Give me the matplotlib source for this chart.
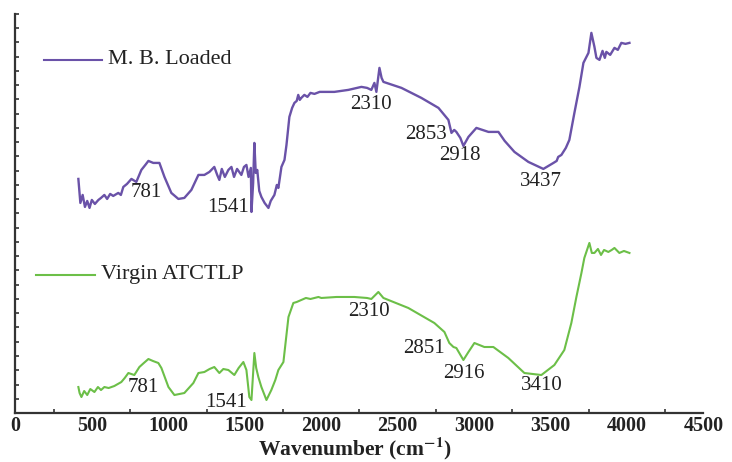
import numpy as np
import matplotlib
matplotlib.use("Agg")
import matplotlib.pyplot as plt
from matplotlib.ticker import MultipleLocator

# FTIR spectra, y in arbitrary units (offset stacked)

mb_wn = [412, 425, 440, 455, 470, 485, 500, 520, 543, 560, 582, 600, 620, 640, 673, 690,
         706, 730, 759, 791, 824, 850, 870, 902, 942, 975, 1020, 1066, 1105, 1151, 1197,
         1236, 1269, 1301, 1320, 1334, 1350, 1370, 1393, 1413, 1430, 1450, 1478, 1495,
         1511, 1525, 1540, 1544, 1555, 1563, 1572, 1582, 1595, 1609, 1630, 1655, 1670,
         1694, 1710, 1720, 1740, 1760, 1773, 1792, 1800, 1810, 1825, 1840, 1850, 1860,
         1870, 1890, 1910, 1930, 1956, 1990, 2086, 2178, 2263, 2300, 2328, 2348, 2361,
         2381, 2395, 2407, 2525, 2655, 2767, 2832, 2852, 2870, 2884, 2910, 2930, 2963,
         3015, 3094, 3159, 3200, 3264, 3355, 3453, 3519, 3540, 3550, 3571, 3600, 3623,
         3656, 3689, 3715, 3748, 3767, 3787, 3800, 3820, 3840, 3855, 3865, 3890, 3918,
         3940, 3963, 3990, 4016]
mb_val = [234, 210, 218, 206, 212, 205, 213, 209, 213, 215, 218, 214, 219, 217, 220, 218,
          226, 229, 234, 231, 243, 248, 252, 250, 250, 236, 220, 214, 215, 223, 238,
          238, 241, 246, 238, 233, 244, 236, 243, 246, 236, 244, 238, 246,
          248, 236, 245, 201, 230, 270, 240, 243, 222, 216, 210, 205, 212,
          218, 228, 225, 246, 253, 268, 296, 300, 305, 310, 312, 318, 313,
          315, 318, 316, 320, 319, 321, 321, 323, 326, 325, 323, 330, 321,
          345, 335, 331, 325, 315, 305, 293, 280, 283, 281, 275, 267, 276,
          285, 281, 281, 272, 261, 251, 244, 250, 252, 256, 258, 265, 273,
          300, 326, 350, 360, 380, 366, 355, 353, 362, 355, 361, 358, 365,
          363, 370, 369, 370]

virgin_wn = [412, 420, 432, 450, 470, 490, 517, 540, 560, 582, 610, 647, 670, 693, 715, 739,
             778, 811, 840, 870, 900, 935, 955, 1001, 1040, 1105, 1164, 1197, 1236, 1270,
             1301, 1334, 1360, 1393, 1432, 1460, 1491, 1511, 1530, 1544, 1563, 1575, 1589,
             1609, 1642, 1674, 1700, 1720, 1753, 1786, 1818, 1840, 1870, 1900, 1930, 1982,
             2001, 2100, 2217, 2300, 2328, 2374, 2407, 2570, 2740, 2806, 2838, 2865, 2884,
             2930, 2963, 3002, 3067, 3126, 3224, 3329, 3440, 3525, 3590, 3636, 3669, 3702,
             3721, 3754, 3770, 3787, 3810, 3830, 3850, 3878, 3900, 3918, 3950, 3980, 4016]
virgin_val = [26, 20, 16, 22, 18, 24, 21, 26, 23, 26, 25, 27, 29, 31, 35, 40,
              38, 46, 50, 54, 52, 50, 45, 26, 18, 20, 30, 40, 41, 44,
              46, 40, 44, 43, 38, 45, 51, 43, 16, 13, 60, 45, 36,
              26, 13, 23, 33, 43, 51, 96, 110, 111, 113, 115, 114, 116,
              115, 116, 116, 115, 114, 121, 115, 105, 90, 81, 70, 66, 65,
              53, 61, 70, 66, 66, 55, 40, 38, 48, 63, 90, 116, 140,
              155, 170, 160, 160, 164, 158, 163, 161, 163, 165, 160, 162, 160]

mb_peaks = ["781", "1541", "2310", "2853", "2918", "3437"]
mb_peak_x = [857, 1393, 2328, 2688, 2904, 3440]
mb_peak_y = [220, 205, 308, 278, 257, 231]

virgin_peaks = ["781", "1541", "2310", "2851", "2916", "3410"]
virgin_peak_x = [837, 1380, 2315, 2675, 2930, 3440]
virgin_peak_y = [26, 11, 101, 65, 40, 28]

purple = "#6a52a8"
green = "#6cbf48"

plt.rcParams['font.family'] = ['Liberation Serif', 'DejaVu Serif']
plt.rcParams['mathtext.fontset'] = 'stix'

fig = plt.figure(figsize=(7.32, 4.62), dpi=100)
ax = fig.add_axes([0.021, 0.106, 0.94, 0.864])

ax.plot(mb_wn, mb_val, color=purple, lw=1.7)
ax.plot(virgin_wn, virgin_val, color=green, lw=1.5)

for t, x, y in zip(mb_peaks, mb_peak_x, mb_peak_y):
    ax.text(x, y, t, ha="center", va="center", fontsize=15, color="#222222")
for t, x, y in zip(virgin_peaks, virgin_peak_x, virgin_peak_y):
    ax.text(x, y, t, ha="center", va="center", fontsize=15, color="#222222")

# legend-like labels inside the plot
ax.plot([190, 569], [353, 353], color=purple, lw=1.5)
ax.text(608, 353, "M. B. Loaded", ha="left", va="center", fontsize=16, color="#222222")
ax.plot([137, 523], [138, 138], color=green, lw=1.5)
ax.text(562, 138, "Virgin ATCTLP", ha="left", va="center", fontsize=16, color="#222222")

ax.set_xlim(0, 4500)
ax.set_ylim(0, 399)
ax.set_xticks(np.arange(0, 4501, 500))
ax.set_xticks(np.arange(250, 4500, 500), minor=True)
ax.yaxis.set_major_locator(MultipleLocator(399 / 28))
ax.set_yticklabels([])
ax.tick_params(axis="x", which="major", length=0, pad=2, labelsize=14.5)
ax.tick_params(axis="x", which="minor", direction="in", length=3, width=1.2, color="#333333")
ax.tick_params(axis="y", which="major", direction="in", length=3, width=1.2, color="#333333")
for lab in ax.get_xticklabels():
    lab.set_fontweight("bold")
    lab.set_color("#222222")

for s in ["top", "right"]:
    ax.spines[s].set_visible(False)
for s in ["left", "bottom"]:
    ax.spines[s].set_linewidth(1.6)
    ax.spines[s].set_color("#333333")

fig.text(0.485, 0.029, "Wavenumber (cm$^{\\mathbf{-1}}$)", ha="center", va="center",
         fontsize=15.5, fontweight="bold", color="#222222")

fig.savefig("out.png", dpi=100)
